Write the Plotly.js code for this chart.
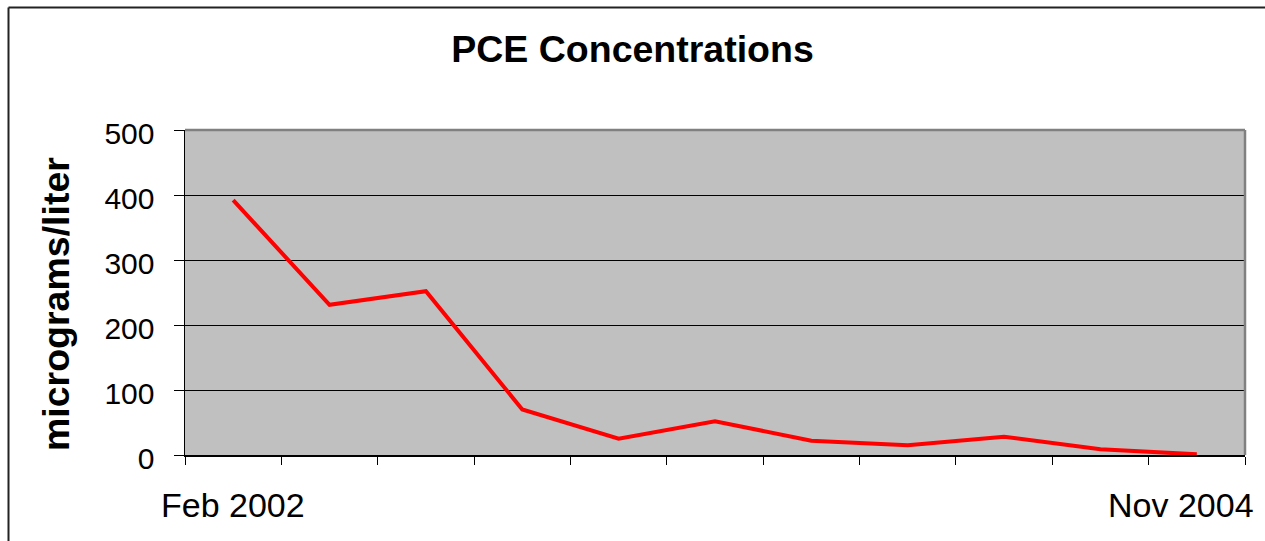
<!DOCTYPE html>
<html>
<head>
<meta charset="utf-8">
<script src="https://cdn.plot.ly/plotly-3.0.1.min.js"></script>
<style>
  html, body { margin: 0; padding: 0; background: #fff; }
  #chart { width: 1265px; height: 541px; }
</style>
</head>
<body>
<div id="chart"></div>
<script>
// Data
var sampleIndex = [0, 1, 2, 3, 4, 5, 6, 7, 8, 9, 10];
var pceValues = [392, 231, 252, 70, 25, 52, 22, 15, 28, 9, 1];
var categoryLabels = ["Feb 2002", "", "", "", "", "", "", "", "", "", "Nov 2004"];
var yTickValues = [0, 100, 200, 300, 400, 500];
var chartTitle = "PCE Concentrations";
var yTitle = "micrograms/liter";

var FONT = "Liberation Sans, Arial, sans-serif";

// tick marks sit on category boundaries
var boundaryTicks = [];
for (var i = 0; i <= sampleIndex.length; i++) boundaryTicks.push(i - 0.5);

var trace = {
  x: sampleIndex,
  y: pceValues,
  type: "scatter",
  mode: "lines",
  line: { color: "#FF0000", width: 4 },
  hoverinfo: "x+y",
  showlegend: false
};

var annotations = [];
categoryLabels.forEach(function (lab, i) {
  if (!lab) return;
  var shift = (i === categoryLabels.length - 1) ? -16 : 0;
  annotations.push({
    text: lab, x: sampleIndex[i], xref: "x",
    y: 0, yref: "paper", yanchor: "middle", xanchor: "center",
    yshift: -50, xshift: shift, showarrow: false,
    font: { family: FONT, size: 34, color: "#000" }
  });
});
annotations.push({
  text: "<b>" + yTitle + "</b>", textangle: -90,
  x: (56 - 185) / 1060, xref: "paper", xanchor: "center",
  y: (455 - 304) / 325, yref: "paper", yanchor: "middle",
  showarrow: false,
  font: { family: FONT, size: 37.5, color: "#000" }
});

var layout = {
  width: 1265, height: 541,
  margin: { l: 185, r: 20, t: 130, b: 86, pad: 0 },
  paper_bgcolor: "#FFFFFF",
  plot_bgcolor: "#C0C0C0",
  title: {
    text: "<b>" + chartTitle + "</b>",
    x: 0.5, xref: "container", xanchor: "center",
    y: 1 - 49 / 541, yref: "container", yanchor: "middle",
    font: { family: FONT, size: 37.5, color: "#000" }
  },
  xaxis: {
    range: [-0.5, sampleIndex.length - 0.5],
    tickmode: "array", tickvals: boundaryTicks,
    showticklabels: false,
    ticks: "outside", ticklen: 8, tickwidth: 1, tickcolor: "#000",
    showgrid: false, zeroline: false,
    showline: true, linecolor: "#000", linewidth: 1.5,
    fixedrange: true
  },
  yaxis: {
    range: [0, 500],
    tickmode: "array", tickvals: yTickValues,
    ticks: "outside", ticklen: 10, tickwidth: 1, tickcolor: "#000",
    ticklabelstandoff: 13,
    ticklabelshift: 3,
    tickfont: { family: FONT, size: 30, color: "#000" },
    showgrid: true, gridcolor: "#000", gridwidth: 1,
    zeroline: false,
    showline: true, linecolor: "#000", linewidth: 1.5,
    fixedrange: true
  },
  annotations: annotations,
  shapes: [
    // gray plot-area border, top and right
    { type: "line", xref: "paper", yref: "paper", x0: 0, x1: 1, y0: 1, y1: 1,
      line: { color: "#808080", width: 2.5 } },
    { type: "line", xref: "paper", yref: "paper", x0: 1, x1: 1, y0: 0, y1: 1,
      line: { color: "#808080", width: 2.5 } },
    // outer chart frame (left and top visible)
    { type: "line", xref: "paper", yref: "paper",
      x0: (8.5 - 185) / 1060, x1: (1275 - 185) / 1060,
      y0: (455 - 7.5) / 325, y1: (455 - 7.5) / 325,
      line: { color: "#222", width: 2 } },
    { type: "line", xref: "paper", yref: "paper",
      x0: (8.5 - 185) / 1060, x1: (8.5 - 185) / 1060,
      y0: (455 - 7.5) / 325, y1: (455 - 560) / 325,
      line: { color: "#222", width: 2 } }
  ]
};

Plotly.newPlot("chart", [trace], layout, { displayModeBar: false, staticPlot: true });
</script>
</body>
</html>
